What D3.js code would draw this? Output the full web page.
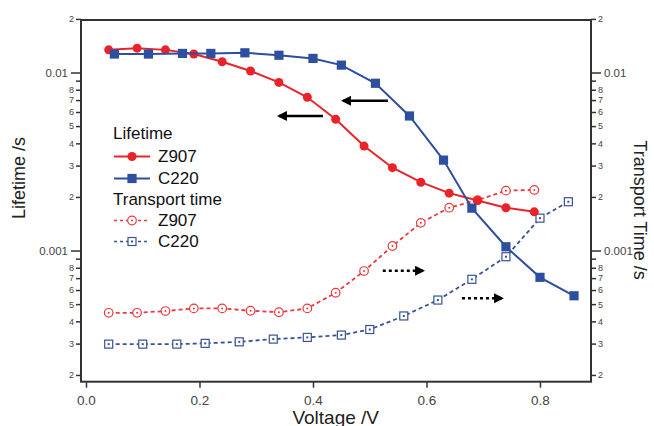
<!DOCTYPE html>
<html>
<head>
<meta charset="utf-8">
<script src="https://cdn.jsdelivr.net/npm/d3@7"></script>
<style>
  html, body { margin: 0; padding: 0; background: #fff; }
  svg { display: block; font-family: "Liberation Sans", Arial, sans-serif; }
</style>
</head>
<body>
<svg id="chart" width="654" height="426"></svg>
<script>
// ---------- data ----------
const z907Voltage = [0.04, 0.09, 0.14, 0.19, 0.24, 0.29, 0.34, 0.39, 0.44, 0.49, 0.54, 0.59, 0.64, 0.69, 0.74, 0.79];
const z907Lifetime = [0.0134, 0.0137, 0.0134, 0.0127, 0.0115, 0.0102, 0.0088, 0.00726, 0.00546, 0.00386, 0.00292, 0.00242, 0.00210, 0.00191, 0.00174, 0.00165];
const z907Transport = [0.000447, 0.000447, 0.000457, 0.000473, 0.000473, 0.000459, 0.000450, 0.000473, 0.000579, 0.000767, 0.00106, 0.00143, 0.00174, 0.00192, 0.00217, 0.00219];

const c220VoltageLife = [0.05, 0.11, 0.17, 0.22, 0.28, 0.34, 0.40, 0.45, 0.51, 0.57, 0.63, 0.68, 0.74, 0.80, 0.86];
const c220Lifetime = [0.0127, 0.0127, 0.0128, 0.0128, 0.0129, 0.0125, 0.0120, 0.0110, 0.0087, 0.0057, 0.00322, 0.00173, 0.00105, 0.000707, 0.000557];
const c220VoltageTrans = [0.04, 0.10, 0.16, 0.21, 0.27, 0.33, 0.39, 0.45, 0.50, 0.56, 0.62, 0.68, 0.74, 0.80, 0.85];
const c220Transport = [0.000298, 0.000298, 0.000298, 0.000301, 0.000307, 0.000318, 0.000325, 0.000335, 0.000360, 0.000429, 0.000527, 0.000689, 0.000923, 0.00152, 0.00188];

const xTickValues = [0.0, 0.2, 0.4, 0.6, 0.8];
const yMajorTicks = [0.001, 0.01];
const yMinorTicks = [0.0002, 0.0003, 0.0004, 0.0005, 0.0006, 0.0007, 0.0008, 0.0009,
                     0.002, 0.003, 0.004, 0.005, 0.006, 0.007, 0.008, 0.009, 0.02];

const legendItems = [
  { type: "header", label: "Lifetime" },
  { type: "series", label: "Z907", key: "z907Life" },
  { type: "series", label: "C220", key: "c220Life" },
  { type: "header", label: "Transport time" },
  { type: "series", label: "Z907", key: "z907Trans" },
  { type: "series", label: "C220", key: "c220Trans" }
];

// arrows: [x0, x1, y] in data units, head at x1
const solidArrows = [[0.4176, 0.34, 0.0057], [0.532, 0.453, 0.00694]];
const dottedArrows = [[0.523, 0.594, 0.00077], [0.6626, 0.733, 0.000539]];

// ---------- styles ----------
const RED = "#e8242a";
const BLUE = "#2d4f9e";
const RED_D = "#ea3a3e";
const BLUE_D = "#3a5293";
const AXIS = "#333";

const series = {
  z907Life:  { x: z907Voltage, y: z907Lifetime, color: RED, dashed: false, marker: "circle", filled: true },
  c220Life:  { x: c220VoltageLife, y: c220Lifetime, color: BLUE, dashed: false, marker: "square", filled: true },
  z907Trans: { x: z907Voltage, y: z907Transport, color: RED_D, dashed: true, marker: "circle", filled: false },
  c220Trans: { x: c220VoltageTrans, y: c220Transport, color: BLUE_D, dashed: true, marker: "square", filled: false }
};

// ---------- scales ----------
const L = 81, R = 591, T = 20, B = 381.7;
const x = d3.scaleLinear().domain([-0.0088, 0.8899]).range([L, R]);
const y = d3.scaleLog().domain([1.833e-4, 0.01972]).range([B, T]);

const svg = d3.select("#chart");

// ---------- axes ----------
const fmtMinor = d => {
  const m = Math.round(d / Math.pow(10, Math.floor(Math.log10(d) + 1e-9)));
  return m === 9 ? "" : String(m);
};

function styleAxis(g) {
  g.select(".domain").remove();
  g.selectAll(".tick line").attr("stroke", AXIS).attr("stroke-width", 1.5);
  g.selectAll(".tick text").attr("fill", "#444");
}

// x axis
svg.append("g").attr("transform", `translate(0,${B})`)
  .call(d3.axisBottom(x).tickValues(xTickValues).tickSize(6).tickPadding(8).tickFormat(d3.format(".1f")))
  .call(styleAxis)
  .call(g => g.selectAll("text").attr("font-size", 13.5).attr("font-family", "Liberation Sans, Arial"));

// left axis
svg.append("g").attr("transform", `translate(${L},0)`)
  .call(d3.axisLeft(y).tickValues(yMajorTicks).tickSize(10).tickPadding(3).tickFormat(d => d === 0.01 ? "0.01" : "0.001"))
  .call(styleAxis)
  .call(g => g.selectAll("text").attr("font-size", 11.5).attr("font-family", "Liberation Sans, Arial"));
svg.append("g").attr("transform", `translate(${L},0)`)
  .call(d3.axisLeft(y).tickValues(yMinorTicks).tickSize(5).tickPadding(2).tickFormat(fmtMinor))
  .call(styleAxis)
  .call(g => g.selectAll("text").attr("font-size", 9).attr("font-family", "Liberation Sans, Arial"));

// right axis
svg.append("g").attr("transform", `translate(${R},0)`)
  .call(d3.axisRight(y).tickValues(yMajorTicks).tickSize(10).tickPadding(3).tickFormat(d => d === 0.01 ? "0.01" : "0.001"))
  .call(styleAxis)
  .call(g => g.selectAll("text").attr("font-size", 11.5).attr("font-family", "Liberation Sans, Arial"));
svg.append("g").attr("transform", `translate(${R},0)`)
  .call(d3.axisRight(y).tickValues(yMinorTicks).tickSize(5).tickPadding(2).tickFormat(fmtMinor))
  .call(styleAxis)
  .call(g => g.selectAll("text").attr("font-size", 9).attr("font-family", "Liberation Sans, Arial"));

// frame
svg.append("rect").attr("x", L).attr("y", T).attr("width", R - L).attr("height", B - T)
  .attr("fill", "none").attr("stroke", AXIS).attr("stroke-width", 2);

// axis titles
svg.append("text").attr("x", x(0.44)).attr("y", 424).attr("text-anchor", "middle")
  .attr("font-size", 19).attr("fill", "#222").text("Voltage /V");
svg.append("text").attr("transform", `translate(25,178) rotate(-90)`).attr("text-anchor", "middle")
  .attr("font-size", 18).attr("fill", "#222").text("Lifetime /s");
svg.append("text").attr("transform", `translate(634,210) rotate(90)`).attr("text-anchor", "middle")
  .attr("font-size", 18).attr("fill", "#222").text("Transport Time /s");

// ---------- marks ----------
function drawMarker(g, s, cx, cy, scale) {
  const k = scale || 1;
  if (s.marker === "circle") {
    if (s.filled) {
      g.append("circle").attr("cx", cx).attr("cy", cy).attr("r", 4.5 * k).attr("fill", s.color);
    } else {
      g.append("circle").attr("cx", cx).attr("cy", cy).attr("r", 4.3 * k)
        .attr("fill", "#fff").attr("stroke", s.color).attr("stroke-width", 1.2);
      g.append("circle").attr("cx", cx).attr("cy", cy).attr("r", 1 * k).attr("fill", s.color);
    }
  } else {
    const h = 4.6 * k;
    if (s.filled) {
      g.append("rect").attr("x", cx - h).attr("y", cy - h).attr("width", 2 * h).attr("height", 2 * h).attr("fill", s.color);
    } else {
      g.append("rect").attr("x", cx - h + 0.6).attr("y", cy - h + 0.6).attr("width", 2 * h - 1.2).attr("height", 2 * h - 1.2)
        .attr("fill", "#fff").attr("stroke", s.color).attr("stroke-width", 1.2);
      g.append("rect").attr("x", cx - 1).attr("y", cy - 1).attr("width", 2).attr("height", 2).attr("fill", s.color);
    }
  }
}

const line = d3.line().x(d => x(d[0])).y(d => y(d[1]));
const order = ["z907Trans", "c220Trans", "z907Life", "c220Life"];
order.forEach(key => {
  const s = series[key];
  const pts = s.x.map((v, i) => [v, s.y[i]]);
  const g = svg.append("g");
  g.append("path").datum(pts).attr("d", line).attr("fill", "none")
    .attr("stroke", s.color).attr("stroke-width", s.dashed ? 1.8 : 2)
    .attr("stroke-dasharray", s.dashed ? "4,3" : null);
  pts.forEach(p => drawMarker(g, s, x(p[0]), y(p[1])));
});

// ---------- arrows ----------
const defs = svg.append("defs");
defs.append("marker").attr("id", "head").attr("viewBox", "0 0 10 10").attr("refX", 8).attr("refY", 5)
  .attr("markerWidth", 4).attr("markerHeight", 4).attr("orient", "auto")
  .append("path").attr("d", "M0,0 L10,5 L0,10 Z").attr("fill", "#000");

solidArrows.forEach(a => {
  svg.append("line").attr("x1", x(a[0])).attr("x2", x(a[1])).attr("y1", y(a[2])).attr("y2", y(a[2]))
    .attr("stroke", "#000").attr("stroke-width", 2.5).attr("marker-end", "url(#head)");
});
dottedArrows.forEach(a => {
  svg.append("line").attr("x1", x(a[0])).attr("x2", x(a[1]) - 6).attr("y1", y(a[2])).attr("y2", y(a[2]))
    .attr("stroke", "#000").attr("stroke-width", 2.5).attr("stroke-dasharray", "3,3");
  svg.append("line").attr("x1", x(a[1]) - 7).attr("x2", x(a[1])).attr("y1", y(a[2])).attr("y2", y(a[2]))
    .attr("stroke", "#000").attr("stroke-width", 2.5).attr("marker-end", "url(#head)");
});

// ---------- legend ----------
const legend = svg.append("g").attr("font-size", 17).attr("fill", "#111");
const rowY = [133.5, 156.5, 178.5, 199, 220.5, 241.5];
legendItems.forEach((item, i) => {
  const cy = rowY[i];
  if (item.type === "header") {
    legend.append("text").attr("x", 113).attr("y", cy).attr("dy", "0.35em").text(item.label);
  } else {
    const s = series[item.key];
    legend.append("line").attr("x1", 114).attr("x2", 150).attr("y1", cy).attr("y2", cy)
      .attr("stroke", s.color).attr("stroke-width", s.dashed ? 1.6 : 2)
      .attr("stroke-dasharray", s.dashed ? "3,3" : null);
    drawMarker(legend, s, 132, cy);
    legend.append("text").attr("x", 158).attr("y", cy).attr("dy", "0.35em").text(item.label);
  }
});
</script>
</body>
</html>
